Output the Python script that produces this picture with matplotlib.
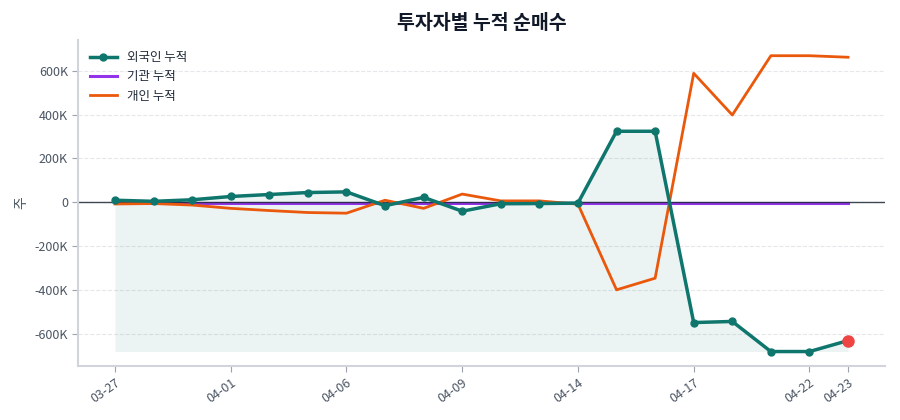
import matplotlib
matplotlib.use("Agg")
import matplotlib.pyplot as plt
from matplotlib.ticker import FuncFormatter
import numpy as np

plt.rcParams["font.family"] = ["Noto Sans CJK KR", "DejaVu Sans"]

# 거래일 (MM-DD)
날짜 = ["03-27", "03-30", "03-31", "04-01", "04-02", "04-03", "04-06", "04-07",
        "04-08", "04-09", "04-10", "04-13", "04-14", "04-15", "04-16", "04-17",
        "04-20", "04-21", "04-22", "04-23"]

# 누적 순매수 (주)
외국인 = [10000, 5000, 12000, 27000, 36000, 45000, 48000, -15000, 23000, -40000,
          -6000, -5000, -3000, 324000, 324000, -547000, -542000, -679000, -679000, -629000]
기관 = [-1000, -1000, -1000, -1000, -1000, -1000, -1000, -1000, -1000, -1000,
        -1000, -1000, -1000, -1000, -1000, -1000, -1000, -1000, -1000, -1000]
개인 = [-7000, -5000, -12000, -27000, -37000, -46000, -49000, 10000, -27000, 38000,
        7000, 7000, -8000, -398000, -345000, 588000, 398000, 668000, 668000, 661000]

COR_EIXO = "#d1d5db"
COR_TEXTO = "#4b5563"

x = np.arange(len(날짜))
fig = plt.figure(figsize=(9, 4.2), dpi=100)
ax = fig.add_axes([0.087, 0.129, 0.896, 0.776])

ax.fill_between(x, 외국인, min(외국인), color="#0f766e", alpha=0.08, linewidth=0)
ax.plot(x, 기관, color="#9333ea", linewidth=2.2, label="기관 누적", zorder=2)
# 0 기준선은 기관 선 위에 그린다
ax.axhline(0, color="#1f2937", linewidth=1, alpha=0.85, zorder=2.5)
ax.plot(x, 개인, color="#ea580c", linewidth=2, label="개인 누적", zorder=3)
ax.plot(x, 외국인, color="#0f766e", linewidth=2.5, marker="o", markersize=5,
        label="외국인 누적", zorder=4)
ax.plot(x[-1], 외국인[-1], "o", color="#ef4444", markersize=8, zorder=5)

ax.set_xlim(-0.95, len(날짜) - 1 + 0.95)
ax.set_ylim(-744000, 740000)

indices = list(range(0, len(날짜), 3))
if indices[-1] != len(날짜) - 1:
    indices.append(len(날짜) - 1)
ax.set_xticks(indices)
ax.set_xticklabels([날짜[i] for i in indices], rotation=35, ha="right",
                   rotation_mode="anchor")
ax.set_yticks(np.arange(-600000, 600001, 200000))
ax.yaxis.set_major_formatter(FuncFormatter(lambda v, p: "0" if v == 0 else "%dK" % round(v / 1000)))

ax.tick_params(colors=COR_TEXTO, labelsize=9, length=4)
ax.tick_params(axis="both", color="#9ca3af")
for lado in ("top", "right"):
    ax.spines[lado].set_visible(False)
for lado in ("left", "bottom"):
    ax.spines[lado].set_color(COR_EIXO)
    ax.spines[lado].set_linewidth(1.5)

ax.grid(True, axis="y", linestyle="--", color="#e5e7eb", linewidth=0.8)
ax.set_axisbelow(True)

ax.set_ylabel("주", color=COR_TEXTO, fontsize=10)
ax.set_title("투자자별 누적 순매수", fontsize=14, fontweight="bold", color="#111827", pad=8)

# 범례 순서: 외국인, 기관, 개인
handles, labels = ax.get_legend_handles_labels()
ordem = [labels.index(n) for n in ("외국인 누적", "기관 누적", "개인 누적")]
ax.legend([handles[i] for i in ordem], [labels[i] for i in ordem],
          loc="upper left", frameon=False, fontsize=9, handlelength=2.2,
          labelcolor="#1f2937")

fig.savefig("out.png", dpi=100)
